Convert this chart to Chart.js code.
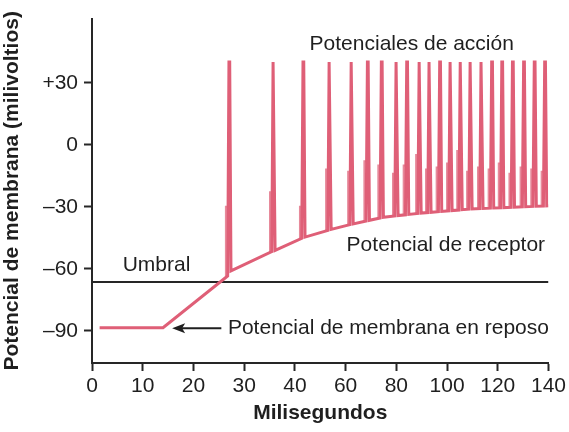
<!DOCTYPE html>
<html>
<head>
<meta charset="utf-8">
<script src="https://cdn.jsdelivr.net/npm/chart.js@4.4.1/dist/chart.umd.min.js"></script>
<style>
    html, body { margin: 0; padding: 0; background: #fff; }
</style>
</head>
<body>
<canvas id="potentialChart" width="569" height="432"></canvas>
<script>
    // eje x: marcas equiespaciadas pero con escala distinta (0-40 de 10 en 10, luego de 20 en 20)
    const xTickMs = [0, 10, 20, 30, 40, 60, 80, 100, 120, 140];
    const xLabels = ['0', '10', '20', '30', '40', '60', '80', '100', '120', '140'];
    const yTicks = [-90, -60, -30, 0, 30];
    const yLabels = ['\u201390', '\u201360', '\u201330', '0', '+30'];

    // potencial de reposo y umbral (mV)
    const restMs = [1.5, 14];
    const restMv = -88.4;
    const thresholdMv = -66.4;

    // potencial de receptor (línea base entre espigas)
    const baseMs = [14, 26.6, 27.4, 35, 43, 54, 62, 75, 90, 110, 140];
    const baseMv = [-88.4, -64, -61, -52, -45, -41, -38.5, -35, -33, -31, -29.5];

    // potenciales de acción
    const spikeMs = [27.1, 35.8, 43.4, 53.7, 62.4, 68.8, 74.3, 80.1, 84.3, 89.2, 93.1,
        97.3, 101.4, 105.4, 109.3, 113.6, 117.8, 121.8, 126.0, 130.4, 134.6, 138.7];
    const shoulderMv = [-30, -23, -30, -12, -13, -8, -10, -14, -10, -5, -12,
        -11, -9, -3, -13, -11, -12, -9, -14, -11, -12, -13];
    const peakMv = 40;

    function interp(xs, ys, x) {
        if (x <= xs[0]) return ys[0];
        for (let i = 1; i < xs.length; i++) {
            if (x <= xs[i]) {
                const f = (x - xs[i - 1]) / (xs[i] - xs[i - 1]);
                return ys[i - 1] + f * (ys[i] - ys[i - 1]);
            }
        }
        return ys[ys.length - 1];
    }
    // ms -> posición en el eje (índice de marca)
    const tickIdx = xTickMs.map((_, i) => i);
    const msToPos = ms => interp(xTickMs, tickIdx, ms);
    const posToMs = p => interp(tickIdx, xTickMs, p);
    const baseAt = p => interp(baseMs, baseMv, posToMs(p));

    // trazo principal
    const trace = [];
    restMs.forEach(ms => trace.push({ x: msToPos(ms), y: restMv }));
    const shoulders = [];
    spikeMs.forEach((ms, i) => {
        const p = msToPos(ms);
        const pre = p - 0.035, post = p + 0.03;
        trace.push({ x: pre, y: baseAt(pre) });
        trace.push({ x: p - 0.01, y: peakMv });
        trace.push({ x: p + 0.005, y: peakMv });
        trace.push({ x: post, y: baseAt(post) });
        const sx = pre - 0.035;
        shoulders.push({ x: sx, y: baseAt(sx) });
        shoulders.push({ x: sx, y: shoulderMv[i] });
        shoulders.push({ x: p - 0.02, y: shoulderMv[i] });
        shoulders.push({ x: p - 0.02, y: null });
    });
    trace.push({ x: msToPos(140), y: interp(baseMs, baseMv, 140) });

    const threshold = [{ x: 0, y: thresholdMv }, { x: msToPos(140), y: thresholdMv }];

    const textColor = '#1f1f1f';
    const FONT = "'Liberation Sans', Arial, Helvetica, sans-serif";
    Chart.defaults.font.family = FONT;
    Chart.defaults.color = textColor;

    const notes = [
        { text: 'Potenciales de acción', ms: 45.8, mv: 48.4 },
        { text: 'Potencial de receptor', ms: 60.4, mv: -48.4 },
        { text: 'Umbral', ms: 6.05, mv: -58.3 },
        { text: 'Potencial de membrana en reposo', ms: 26.8, mv: -88.7 }
    ];

    const annotations = {
        id: 'annotations',
        beforeDraw(chart) {
            const c = chart.ctx;
            c.save();
            c.fillStyle = '#fff';
            c.fillRect(0, 0, chart.width, chart.height);
            c.restore();
        },
        afterDatasetsDraw(chart) {
            const c = chart.ctx;
            const sx = chart.scales.x, sy = chart.scales.y;
            c.save();
            c.fillStyle = textColor;
            c.font = '21px ' + FONT;
            c.textAlign = 'left';
            c.textBaseline = 'middle';
            notes.forEach(n => {
                c.fillText(n.text, sx.getPixelForValue(msToPos(n.ms)), sy.getPixelForValue(n.mv));
            });
            // flecha hacia el potencial de reposo
            const y = sy.getPixelForValue(-88.7);
            const x0 = sx.getPixelForValue(msToPos(25.5));
            const x1 = sx.getPixelForValue(msToPos(15.8));
            c.strokeStyle = textColor;
            c.lineWidth = 2;
            c.beginPath();
            c.moveTo(x0, y);
            c.lineTo(x1 + 8, y);
            c.stroke();
            c.beginPath();
            c.moveTo(x1, y);
            c.lineTo(x1 + 13, y - 5);
            c.lineTo(x1 + 10, y);
            c.lineTo(x1 + 13, y + 5);
            c.closePath();
            c.fill();
            c.restore();
        }
    };

    new Chart(document.getElementById('potentialChart'), {
        type: 'line',
        data: {
            datasets: [
                {
                    label: 'Umbral',
                    data: threshold,
                    borderColor: '#262626',
                    borderWidth: 2,
                    pointRadius: 0,
                    order: 3
                },
                {
                    label: 'Hombros',
                    data: shoulders,
                    borderColor: '#e78a9b',
                    borderWidth: 2,
                    pointRadius: 0,
                    spanGaps: false,
                    order: 2
                },
                {
                    label: 'Potencial de membrana',
                    data: trace,
                    borderColor: '#df5f77',
                    borderWidth: 3,
                    pointRadius: 0,
                    order: 1
                }
            ]
        },
        options: {
            responsive: false,
            animation: false,
            layout: { padding: { top: 17, right: 20, left: 0, bottom: 0 } },
            plugins: { legend: { display: false }, tooltip: { enabled: false } },
            scales: {
                x: {
                    type: 'linear',
                    min: 0,
                    max: xLabels.length - 1,
                    afterFit: s => { s.height = 69; },
                    afterBuildTicks: s => { s.ticks = tickIdx.map(v => ({ value: v })); },
                    border: { display: true, color: '#262626', width: 2 },
                    grid: { drawOnChartArea: false, drawTicks: true, tickLength: 8, tickColor: '#262626', tickWidth: 2 },
                    ticks: {
                        font: { size: 21 },
                        color: textColor,
                        padding: 3,
                        maxRotation: 0,
                        autoSkip: false,
                        callback: v => xLabels[v]
                    },
                    title: {
                        display: true,
                        text: 'Milisegundos',
                        font: { size: 21, weight: 'bold' },
                        color: textColor,
                        padding: { top: 0, bottom: 6 }
                    }
                },
                y: {
                    min: -105.5,
                    max: 61,
                    afterFit: s => { s.width = 92; },
                    afterBuildTicks: s => { s.ticks = yTicks.map(v => ({ value: v })); },
                    border: { display: true, color: '#262626', width: 2 },
                    grid: { drawOnChartArea: false, drawTicks: true, tickLength: 8, tickColor: '#262626', tickWidth: 2 },
                    ticks: {
                        font: { size: 21 },
                        color: textColor,
                        padding: 6,
                        autoSkip: false,
                        callback: (v, i) => yLabels[yTicks.indexOf(v)]
                    },
                    title: {
                        display: true,
                        text: 'Potencial de membrana (milivoltios)',
                        font: { size: 21, weight: 'bold' },
                        color: textColor,
                        padding: { top: 0, bottom: 0 }
                    }
                }
            }
        },
        plugins: [annotations]
    });
</script>
</body>
</html>
